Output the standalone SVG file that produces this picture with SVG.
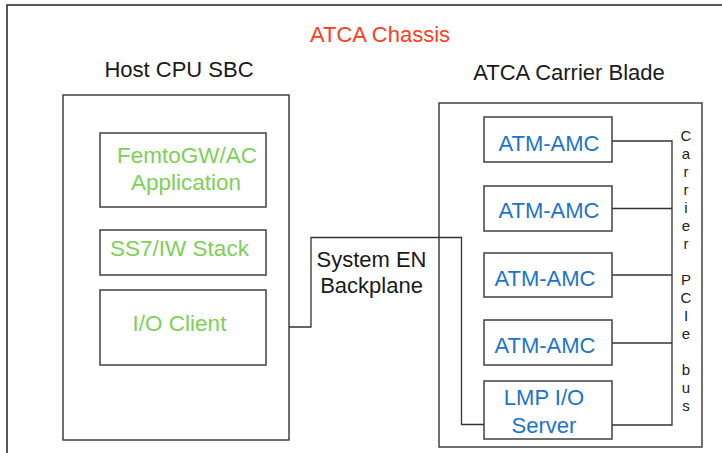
<svg xmlns="http://www.w3.org/2000/svg" width="722" height="453" viewBox="0 0 722 453">
<style>
.box{fill:#fff;stroke:#404040;stroke-width:1.5}
.wire{fill:none;stroke:#333;stroke-width:1.3}
text{font-family:"Liberation Sans",Arial,sans-serif;text-anchor:middle}
.ttl{font-size:22px;fill:#1a1a1a}
.grn{font-size:22.5px;fill:#7ECF58}
.blu{font-size:22px;fill:#1B74C9}
.bus{font-size:15px;fill:#222}
</style>
<rect width="722" height="453" fill="#fff"/>
<g id="chassis">
<path d="M7,453 V5 H722" fill="none" stroke="#222" stroke-width="1.5"/>
<text x="380" y="42" style="font-size:22px;fill:#FF3D1E">ATCA Chassis</text>
</g>
<g id="host-sbc">
<rect class="box" x="63" y="95" width="226" height="345"/>
<text class="ttl" x="179" y="77">Host CPU SBC</text>
</g>
<g id="femtogw">
<rect class="box" x="100" y="133" width="166" height="74"/>
<text class="grn" x="187" y="163">FemtoGW/AC</text>
<text class="grn" x="186" y="190">Application</text>
</g>
<g id="ss7">
<rect class="box" x="100" y="230" width="166" height="45"/>
<text class="grn" x="179.5" y="256">SS7/IW Stack</text>
</g>
<g id="io-client">
<rect class="box" x="100" y="290" width="166" height="75"/>
<text class="grn" x="179.5" y="331">I/O Client</text>
</g>
<g id="carrier-blade">
<rect class="box" x="439" y="103" width="263" height="344"/>
<text class="ttl" x="569" y="80">ATCA Carrier Blade</text>
</g>
<g id="backplane">
<text class="ttl" x="371.5" y="267">System EN</text>
<text class="ttl" x="371.5" y="293">Backplane</text>
</g>
<g id="amc1">
<rect class="box" x="484" y="117" width="128" height="45"/>
<text class="blu" x="549" y="151">ATM-AMC</text>
</g>
<g id="amc2">
<rect class="box" x="484" y="186" width="128" height="45"/>
<text class="blu" x="549" y="218">ATM-AMC</text>
</g>
<g id="amc3">
<rect class="box" x="484" y="253" width="128" height="44"/>
<text class="blu" x="545" y="286">ATM-AMC</text>
</g>
<g id="amc4">
<rect class="box" x="484" y="320" width="128" height="45"/>
<text class="blu" x="545" y="353">ATM-AMC</text>
</g>
<g id="lmp">
<rect class="box" x="484" y="381" width="128" height="58"/>
<text class="blu" x="544" y="405">LMP I/O</text>
<text class="blu" x="544" y="433">Server</text>
</g>
<g id="pcie-bus">
<text class="bus" x="686">
<tspan x="686" y="140.5">C</tspan><tspan x="686" y="158.5">a</tspan><tspan x="686" y="176.5">r</tspan><tspan x="686" y="194.5">r</tspan><tspan x="686" y="212.5">i</tspan><tspan x="686" y="230.5">e</tspan><tspan x="686" y="248.5">r</tspan><tspan x="686" y="284.5">P</tspan><tspan x="686" y="302.5">C</tspan><tspan x="686" y="320.5">I</tspan><tspan x="686" y="338.5">e</tspan><tspan x="686" y="374.5">b</tspan><tspan x="686" y="392.5">u</tspan><tspan x="686" y="410.5">s</tspan>
</text>
</g>
<g id="connectors">
<path class="wire" d="M289,327 H311 V237.5 H461.5 V424.5 H484"/>
<path class="wire" d="M612,141 H672 V425 H612"/>
<path class="wire" d="M612,208.5 H672"/>
<path class="wire" d="M612,275 H672"/>
<path class="wire" d="M612,343 H672"/>
</g>
</svg>
